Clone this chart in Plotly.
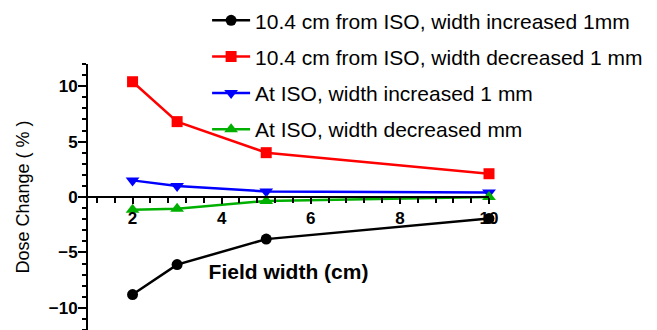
import plotly.graph_objects as go

# Field widths (cm)
field_width = [2, 3, 5, 10]

# Dose change (%) for each setup
far_increased = [-8.8, -6.1, -3.8, -1.95]
far_decreased = [10.4, 6.8, 4.0, 2.1]
iso_increased = [1.5, 1.0, 0.5, 0.4]
iso_decreased = [-1.15, -1.05, -0.35, 0.0]

names = [
    "10.4 cm from ISO, width increased 1mm",
    "10.4 cm from ISO, width decreased 1 mm",
    "At ISO, width increased 1 mm",
    "At ISO, width decreased mm",
]
series = [far_increased, far_decreased, iso_increased, iso_decreased]
colors = ["#000000", "#ff0000", "#0000ff", "#00b000"]
symbols = ["circle", "square", "triangle-down", "triangle-up"]
sizes = [11, 11, 12, 12]

x_ticks = [2, 4, 6, 8, 10]
y_ticks = [-10, -5, 0, 5, 10]

FONT = "Arial, Liberation Sans, sans-serif"

fig = go.Figure()
for i, (name, vals) in enumerate(zip(names, series)):
    fig.add_trace(go.Scatter(
        x=field_width, y=vals, name=name, mode="lines+markers",
        line=dict(color=colors[i], width=2.5),
        marker=dict(symbol=symbols[i], size=sizes[i], color=colors[i]),
        legendgroup=f"g{i}",
        cliponaxis=False,
    ))

fig.update_layout(
    width=657, height=330,
    margin=dict(l=88, r=168, t=64, b=0),
    paper_bgcolor="white", plot_bgcolor="white",
    showlegend=True,
    legend=dict(
        x=0.297, y=1.24, xanchor="left", yanchor="top",
        bgcolor="rgba(0,0,0,0)",
        font=dict(family=FONT, size=21, color="#000"),
        tracegroupgap=6,
        itemwidth=38,
    ),
    xaxis=dict(
        range=[1, 10], anchor="free", position=0.5,
        showline=True, linecolor="black", linewidth=2,
        showgrid=False, zeroline=False,
        ticks="outside", ticklen=6, tickwidth=2, tickcolor="black",
        tickvals=x_ticks,
        tickfont=dict(family=FONT, size=17, color="black", weight="bold"),
        minor=dict(ticks="outside", ticklen=5, tickwidth=2, tickcolor="black",
                   dtick=0.4, tick0=2, showgrid=False),
        title=dict(text="Field width (cm)", standoff=36,
                   font=dict(family=FONT, size=21, color="black", weight="bold")),
    ),
    yaxis=dict(
        range=[-12, 12],
        showline=True, linecolor="black", linewidth=2,
        showgrid=False, zeroline=False,
        ticks="outside", ticklen=8, tickwidth=2, tickcolor="black",
        tickvals=y_ticks,
        ticklabelstandoff=-3,
        tickfont=dict(family=FONT, size=17, color="black", weight="bold"),
        minor=dict(ticks="outside", ticklen=4, tickwidth=2, tickcolor="black",
                   dtick=1, showgrid=False),
        title=dict(text="Dose Change ( % )", standoff=14,
                   font=dict(family=FONT, size=18, color="black")),
    ),
)

fig.write_html("out.html")
